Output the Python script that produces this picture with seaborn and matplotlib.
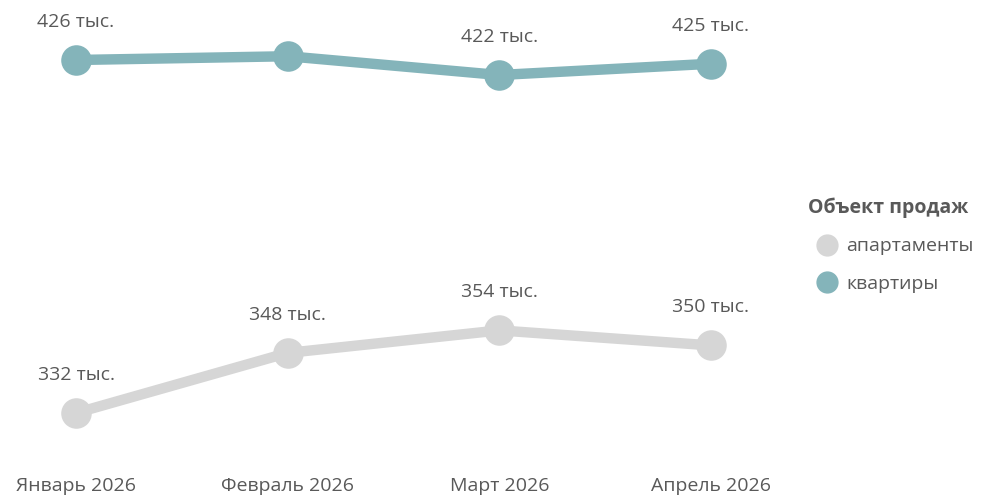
import matplotlib
matplotlib.use("Agg")
import matplotlib.pyplot as plt
import seaborn as sns
import pandas as pd
from matplotlib.lines import Line2D

months = ["Январь 2026", "Февраль 2026", "Март 2026", "Апрель 2026"]
kvartiry = [426, 427, 422, 425]
apartamenty = [332, 348, 354, 350]
series_names = ["апартаменты", "квартиры"]
colors = {"апартаменты": "#D6D6D6", "квартиры": "#84B4BA"}

df = pd.DataFrame({
    "x": list(range(4)) * 2,
    "value": apartamenty + kvartiry,
    "series": ["апартаменты"] * 4 + ["квартиры"] * 4,
})

sns.set_theme(style="white")
plt.rcParams["font.family"] = ["Open Sans", "DejaVu Sans"]
txt = "#595959"
fs = 14

fig = plt.figure(figsize=(9.83, 5), dpi=100)
ax = fig.add_axes([76/983, (500-413)/500, 635/983, (413-60)/500])
sns.lineplot(data=df, x="x", y="value", hue="series", palette=colors, ax=ax,
             linewidth=7.5, marker="o", markersize=22, markeredgewidth=0,
             legend=False)
for l in ax.lines:
    l.set_clip_on(False)
ax.set_xlim(0, 3)
ax.set_ylim(332, 426)
for s in ax.spines.values():
    s.set_visible(False)
ax.set_xlabel(""); ax.set_ylabel("")
ax.set_yticks([])
ax.set_xticks(range(4))
ax.set_xticklabels(months, fontsize=fs, color=txt)
ax.tick_params(axis="x", length=0, pad=46)

for vals in (kvartiry, apartamenty):
    for i, v in enumerate(vals):
        ax.annotate(f"{v} тыс.", (i, v), xytext=(0, 21), textcoords="offset points",
                    ha="center", va="bottom", fontsize=fs, color=txt)

handles = [Line2D([], [], marker="o", linestyle="", markersize=15,
                  color=colors[n]) for n in series_names]
leg = fig.legend(handles, series_names, loc="upper left",
                 bbox_to_anchor=(790/983, 1 - 180/500), frameon=False,
                 title="Объект продаж", fontsize=fs, handletextpad=0.0,
                 labelspacing=1.0, alignment="left")
leg.get_title().set_fontweight("bold")
leg.get_title().set_color(txt)
leg.get_title().set_fontsize(fs)
for t in leg.get_texts():
    t.set_color(txt)

fig.savefig("out.png", dpi=100)
